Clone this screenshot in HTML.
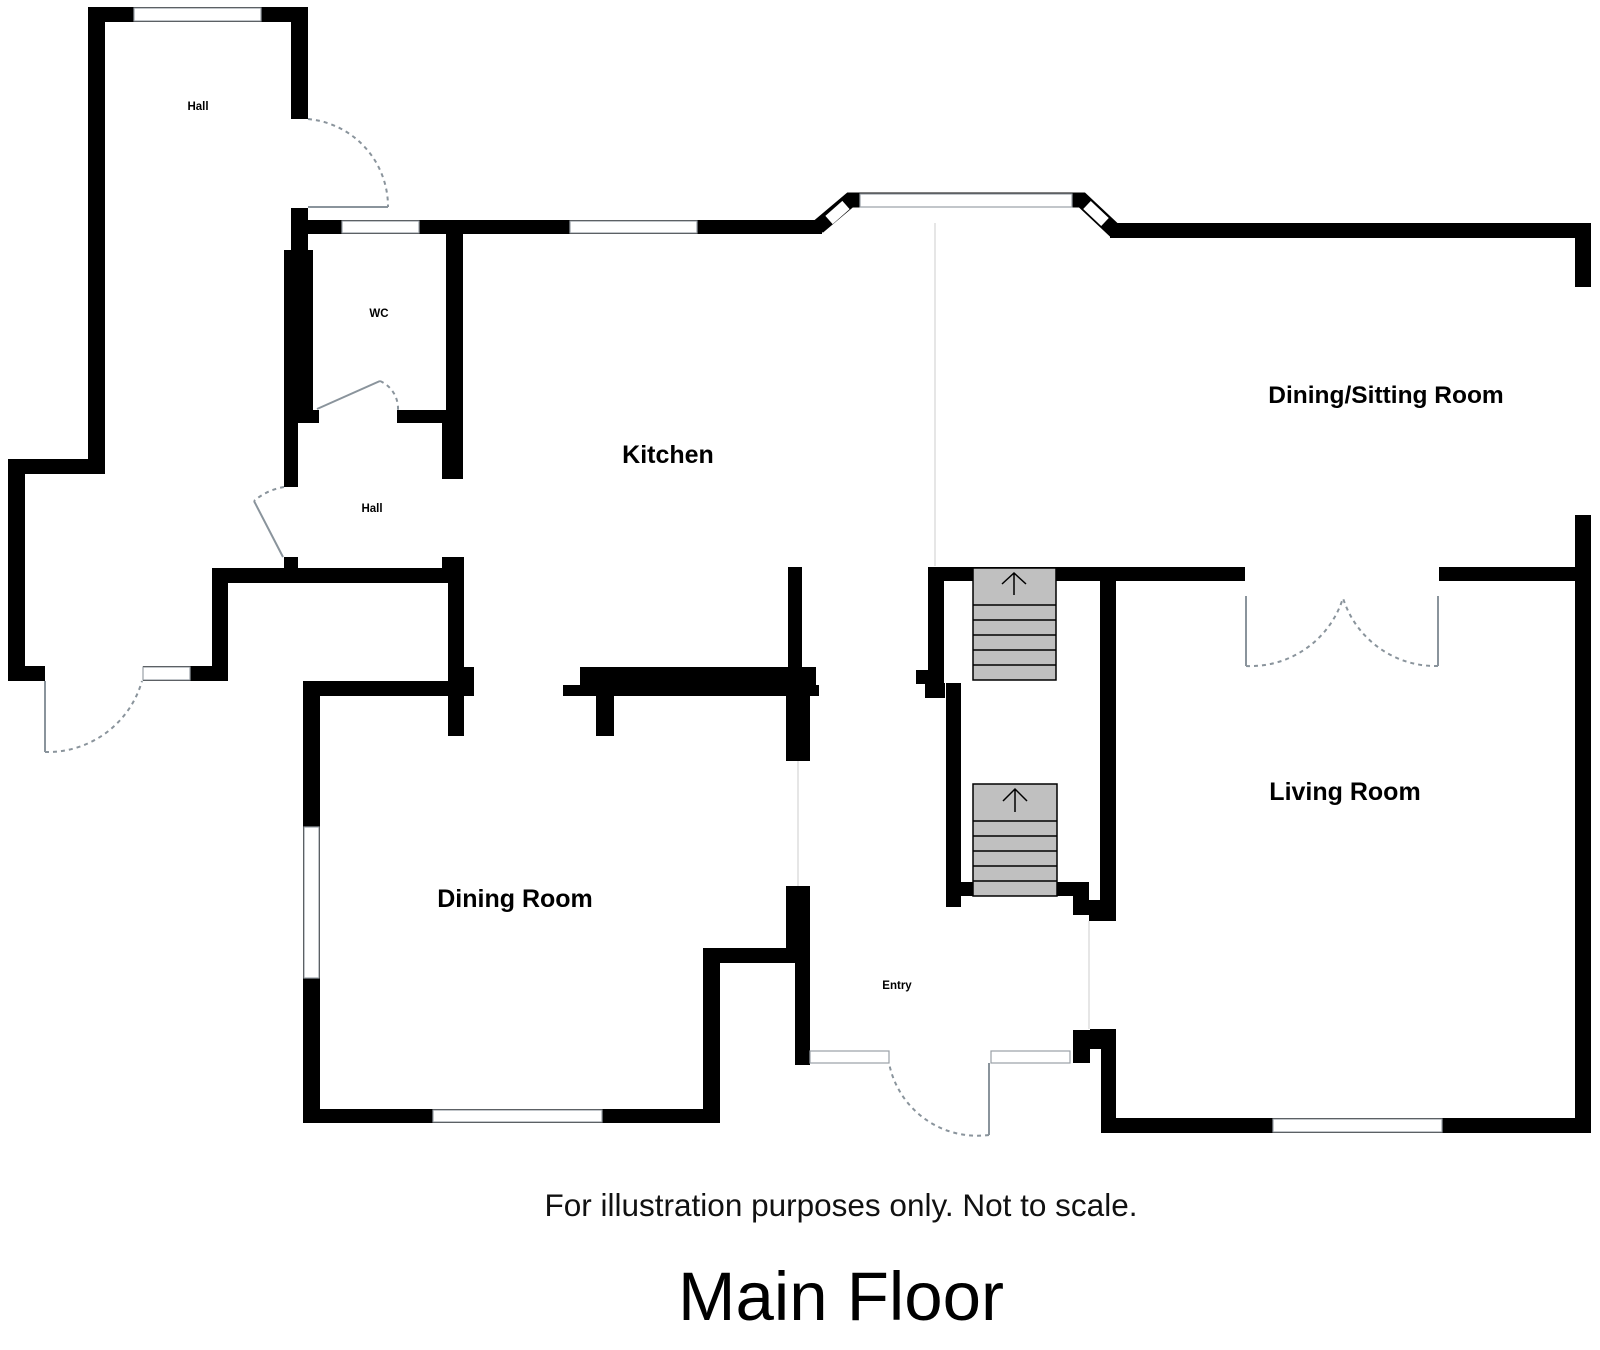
<!DOCTYPE html>
<html><head><meta charset="utf-8"><style>
html,body{margin:0;padding:0;background:#fff;}
svg{display:block;}
text{font-family:"Liberation Sans",Arial,sans-serif;}
</style></head><body>
<svg width="1600" height="1350" viewBox="0 0 1600 1350" xmlns="http://www.w3.org/2000/svg">
<rect width="1600" height="1350" fill="#fff"/>
<g fill="#000">
<rect x="88" y="7" width="220" height="15"/>
<rect x="88" y="7" width="17" height="467"/>
<rect x="291" y="7" width="17" height="112"/>
<rect x="291" y="208" width="17" height="42"/>
<rect x="284" y="250" width="29" height="160"/>
<rect x="284" y="250" width="14" height="237"/>
<rect x="8" y="459" width="97" height="15"/>
<rect x="8" y="459" width="17" height="222"/>
<rect x="8" y="666" width="37" height="15"/>
<rect x="143" y="666" width="85" height="15"/>
<rect x="212" y="568" width="16" height="113"/>
<rect x="212" y="568" width="252" height="15"/>
<rect x="284" y="557" width="14" height="12"/>
<rect x="442" y="557" width="22" height="12"/>
<rect x="298" y="220" width="524" height="14"/>
<rect x="446" y="234" width="17" height="245"/>
<rect x="298" y="410" width="21" height="13"/>
<rect x="397" y="410" width="49" height="13"/>
<rect x="442" y="410" width="21" height="69"/>
<polyline points="818,227 850,200 1082,200 1115,231" fill="none" stroke="#000" stroke-width="15" stroke-linejoin="miter"/>
<rect x="1110" y="223" width="481" height="15"/>
<rect x="1575" y="223" width="16" height="64"/>
<rect x="1575" y="515" width="16" height="618"/>
<rect x="448" y="569" width="16" height="167"/>
<rect x="448" y="667" width="26" height="29"/>
<rect x="303" y="681" width="171" height="15"/>
<rect x="303" y="681" width="17" height="442"/>
<rect x="303" y="1109" width="417" height="14"/>
<rect x="703" y="948" width="17" height="175"/>
<rect x="703" y="948" width="92" height="15"/>
<rect x="786" y="886" width="24" height="77"/>
<rect x="795" y="886" width="15" height="179"/>
<rect x="580" y="667" width="236" height="29"/>
<rect x="563" y="685" width="256" height="11"/>
<rect x="596" y="696" width="18" height="40"/>
<rect x="788" y="567" width="14" height="100"/>
<rect x="786" y="696" width="24" height="65"/>
<rect x="928" y="567" width="317" height="14"/>
<rect x="1439" y="567" width="152" height="14"/>
<rect x="928" y="567" width="16" height="116"/>
<rect x="916" y="670" width="14" height="14"/>
<rect x="925" y="683" width="20" height="15"/>
<rect x="946" y="683" width="15" height="224"/>
<rect x="961" y="882" width="14" height="14"/>
<rect x="1056" y="882" width="33" height="14"/>
<rect x="1073" y="882" width="16" height="33"/>
<rect x="1100" y="581" width="16" height="340"/>
<rect x="1089" y="900" width="27" height="21"/>
<rect x="1073" y="1030" width="17" height="33"/>
<rect x="1090" y="1029" width="26" height="20"/>
<rect x="1101" y="1029" width="15" height="104"/>
<rect x="1101" y="1118" width="490" height="15"/>
</g>
<g fill="#fff" stroke="#9aa0a6" stroke-width="1.2">
<rect x="134" y="8" width="127" height="13"/>
<rect x="342" y="221" width="77" height="12"/>
<rect x="570" y="221" width="127" height="12"/>
<rect x="860" y="194" width="212" height="13"/>
<rect x="143" y="667" width="47" height="13"/>
<rect x="304" y="827" width="15" height="151"/>
<rect x="433" y="1110" width="169" height="12"/>
<rect x="810" y="1051" width="79" height="12"/>
<rect x="991" y="1051" width="79" height="12"/>
<rect x="1273" y="1119" width="169" height="13"/>
</g>
<line x1="829" y1="220" x2="846" y2="205" stroke="#fff" stroke-width="11"/>
<line x1="1087" y1="205" x2="1105" y2="222" stroke="#fff" stroke-width="11"/>
<g stroke="#ccc" stroke-width="1">
<line x1="935" y1="223" x2="935" y2="566"/>
<line x1="798" y1="761" x2="798" y2="886"/>
<line x1="1089" y1="921" x2="1089" y2="1029"/>
</g>
<g fill="none" stroke="#8a949c" stroke-width="2">
<line x1="308" y1="207" x2="388" y2="207"/>
<line x1="317" y1="409" x2="380" y2="381"/>
<line x1="254" y1="501" x2="283" y2="557"/>
<line x1="45" y1="681" x2="45" y2="752"/>
<line x1="989" y1="1063" x2="989" y2="1135"/>
<line x1="1246" y1="596" x2="1246" y2="666"/>
<line x1="1438" y1="596" x2="1438" y2="666"/>
</g>
<g fill="none" stroke="#8a949c" stroke-width="2" stroke-dasharray="4,4">
<path d="M308,119 A88,88 0 0 1 388,207"/>
<path d="M380,381 A30,30 0 0 1 398,410"/>
<path d="M284,487 A60,60 0 0 0 254,501"/>
<path d="M45,752 A98,98 0 0 0 142,681"/>
<path d="M989,1135 A90,90 0 0 1 889,1063"/>
<path d="M1246,666 A97,97 0 0 0 1343,598"/>
<path d="M1438,666 A97,97 0 0 1 1343,598"/>
</g>
<g fill="#c0c0c0" stroke="#000" stroke-width="1.5">
<rect x="973" y="568" width="83" height="112"/>
<rect x="973" y="784" width="84" height="112"/>
</g>
<g stroke="#000" stroke-width="1.5" fill="none">
<line x1="973" y1="605" x2="1056" y2="605"/><line x1="973" y1="620" x2="1056" y2="620"/><line x1="973" y1="635" x2="1056" y2="635"/><line x1="973" y1="650" x2="1056" y2="650"/><line x1="973" y1="665" x2="1056" y2="665"/>
<line x1="973" y1="821" x2="1057" y2="821"/><line x1="973" y1="836" x2="1057" y2="836"/><line x1="973" y1="851" x2="1057" y2="851"/><line x1="973" y1="866" x2="1057" y2="866"/><line x1="973" y1="881" x2="1057" y2="881"/>
<path d="M1014,595 V574 M1002,584 L1014,573 L1026,584"/>
<path d="M1015,812 V790 M1003,801 L1015,789 L1027,801"/>
</g>
<g font-weight="bold" text-anchor="middle" fill="#000">
<text x="198" y="110" font-size="11.5">Hall</text>
<text x="379" y="317" font-size="11.5">WC</text>
<text x="372" y="512" font-size="11.5">Hall</text>
<text x="897" y="989" font-size="11.5">Entry</text>
<text x="668" y="463" font-size="25">Kitchen</text>
<text x="1386" y="403" font-size="24.5">Dining/Sitting Room</text>
<text x="1345" y="800" font-size="25">Living Room</text>
<text x="515" y="907" font-size="25">Dining Room</text>
</g>
<text x="841" y="1216" font-size="31.5" text-anchor="middle" fill="#111">For illustration purposes only. Not to scale.</text>
<text x="841" y="1320" font-size="69" text-anchor="middle" fill="#000">Main Floor</text>
</svg>
</body></html>
